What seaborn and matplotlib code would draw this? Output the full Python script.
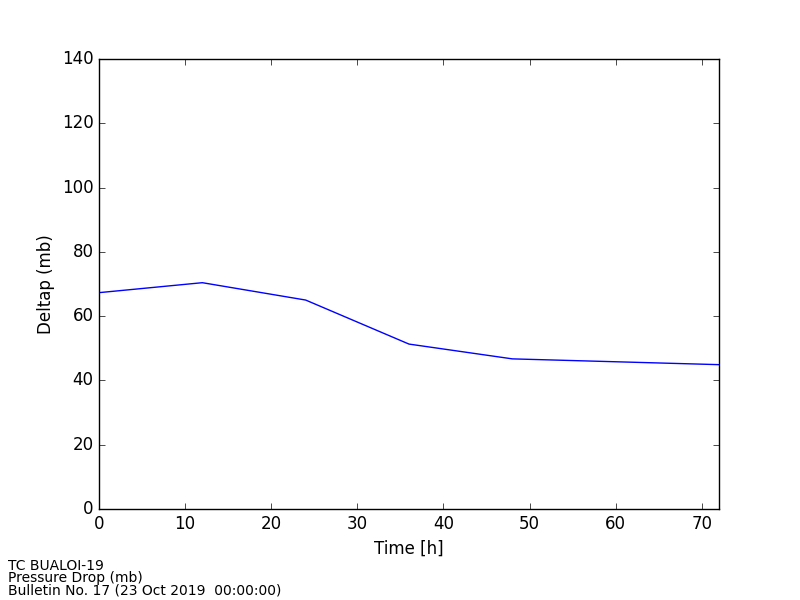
import matplotlib
matplotlib.use("Agg")
import matplotlib.pyplot as plt
import seaborn as sns
import pandas as pd

# forecast data
hours = [0, 12, 24, 36, 48, 72]
deltap = [67.3, 70.4, 65.0, 51.3, 46.7, 44.9]

info_lines = ["TC BUALOI-19", "Pressure Drop (mb)", "Bulletin No. 17 (23 Oct 2019  00:00:00)"]

df = pd.DataFrame({"Time [h]": hours, "Deltap (mb)": deltap})

plt.style.use("classic")
plt.rcParams["font.family"] = ["DejaVu Sans"]

fig = plt.figure(figsize=(8, 6), dpi=100, facecolor="white")
ax = fig.add_axes([0.12375, 0.1517, 0.775, 0.75])

sns.lineplot(data=df, x="Time [h]", y="Deltap (mb)", color="blue", linewidth=1, ax=ax)

ax.set_xlim(0, 72)
ax.set_ylim(0, 140)
ax.set_xticks(range(0, 71, 10))
ax.set_yticks(range(0, 141, 20))
ax.tick_params(labelsize=12, direction="in", top=True, right=True)
ax.set_xlabel("Time [h]", fontsize=12)
ax.set_ylabel("Deltap (mb)", fontsize=12)

for i, line in enumerate(info_lines):
    fig.text(0.01, (600 - 559 - 12 * i) / 600, line, fontsize=10, va="top", ha="left")

fig.savefig("out.png", dpi=100, facecolor="white")
